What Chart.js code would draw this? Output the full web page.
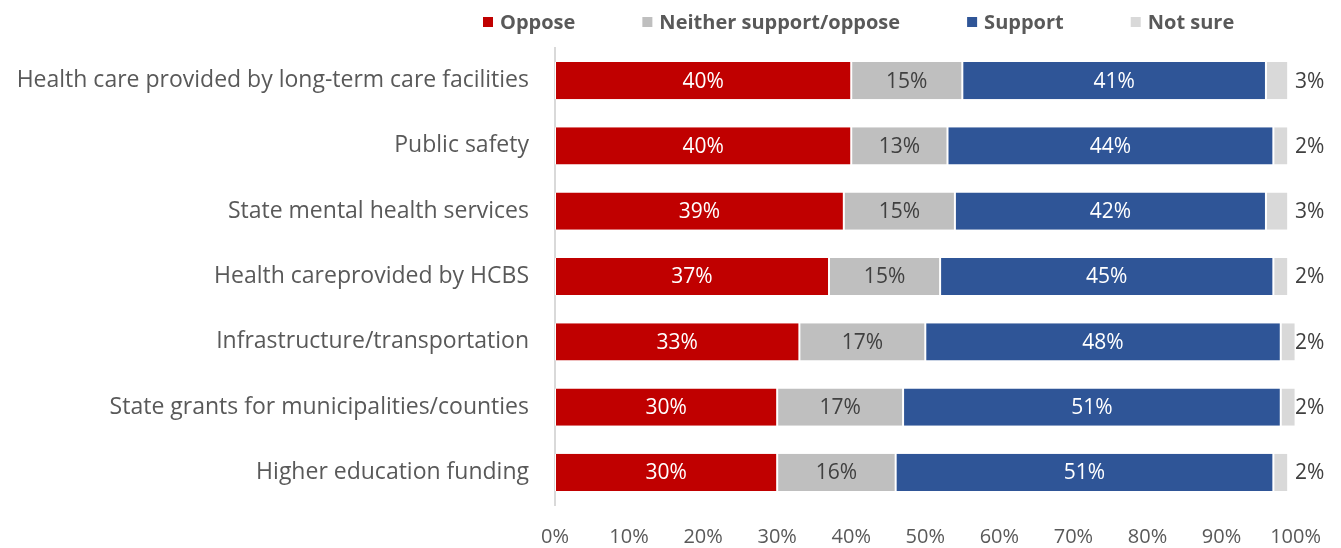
<!DOCTYPE html>
<html>
<head>
<meta charset="utf-8">
<script src="https://cdn.jsdelivr.net/npm/chart.js@4.4.0/dist/chart.umd.min.js"></script>
<style>
  body { margin: 0; background: #fff; }
  #wrap { width: 1341px; height: 548px; position: relative; }
</style>
</head>
<body>
<div id="wrap"><canvas id="myChart"></canvas></div>
<script>
var categories = ['Health care provided by long-term care facilities', 'Public safety', 'State mental health services',
  'Health careprovided by HCBS', 'Infrastructure/transportation', 'State grants for municipalities/counties', 'Higher education funding'];
var oppose = [40, 40, 39, 37, 33, 30, 30];
var neither = [15, 13, 15, 15, 17, 17, 16];
var support = [41, 44, 42, 45, 48, 51, 51];
var notSure = [3, 2, 3, 2, 2, 2, 2];
var xTicks = [0, 10, 20, 30, 40, 50, 60, 70, 80, 90, 100];

var FONT = "'Open Sans', 'Noto Sans', sans-serif";
var textGrey = '#595959';

// labels inside the bars, and "not sure" on the right side
var barLabels = {
  id: 'barLabels',
  afterDatasetsDraw: function(chart) {
    var ctx = chart.ctx;
    var xs = chart.scales.x;
    ctx.save();
    ctx.font = '21px ' + FONT;
    ctx.textBaseline = 'middle';
    ctx.textAlign = 'center';
    chart.data.datasets.forEach(function(ds, i) {
      var meta = chart.getDatasetMeta(i);
      meta.data.forEach(function(el, j) {
        var txt = ds.data[j] + '%';
        if (i == 3) {
          ctx.fillStyle = '#404040';
          ctx.fillText(txt, xs.getPixelForValue(100) + 14, el.y + 1);
        } else {
          ctx.fillStyle = ds.labelColor;
          ctx.fillText(txt, (el.x + el.base) / 2, el.y + 1);
        }
      });
    });
    ctx.restore();
  }
};

// legend drawn by hand so it sits where the original one does
var topLegend = {
  id: 'topLegend',
  afterDraw: function(chart) {
    var ctx = chart.ctx;
    ctx.save();
    ctx.font = 'bold 20px ' + FONT;
    ctx.textBaseline = 'middle';
    ctx.textAlign = 'left';
    var x = 483, y = 22;
    chart.data.datasets.forEach(function(ds) {
      ctx.fillStyle = ds.backgroundColor;
      ctx.fillRect(x, y - 5, 10, 10);
      ctx.fillStyle = textGrey;
      ctx.fillText(ds.label, x + 17, y + 1);
      x += 17 + ctx.measureText(ds.label).width + 67;
    });
    ctx.restore();
  }
};

var chartdata = {
  labels: categories,
  datasets: [
    { label: 'Oppose', data: oppose, backgroundColor: '#C00000', labelColor: '#ffffff' },
    { label: 'Neither support/oppose', data: neither, backgroundColor: '#BFBFBF', labelColor: '#404040' },
    { label: 'Support', data: support, backgroundColor: '#2F5597', labelColor: '#ffffff' },
    { label: 'Not sure', data: notSure, backgroundColor: '#D9D9D9', labelColor: '#404040' }
  ]
};
chartdata.datasets.forEach(function(ds) {
  ds.borderColor = '#ffffff';
  ds.borderWidth = { left: 1, right: 1, top: 0, bottom: 0 };
  ds.borderSkipped = false;
  ds.categoryPercentage = 1;
  ds.barPercentage = 0.57;
});

new Chart(document.getElementById('myChart'), {
  type: 'bar',
  data: chartdata,
  plugins: [barLabels, topLegend],
  options: {
    indexAxis: 'y',
    responsive: true,
    maintainAspectRatio: false,
    animation: false,
    layout: { padding: { top: 48, right: 44, bottom: 0, left: 0 } },
    plugins: { legend: { display: false }, tooltip: { enabled: false } },
    scales: {
      x: {
        stacked: true, min: 0, max: 100,
        afterBuildTicks: function(ax) { ax.ticks = xTicks.map(function(v) { return { value: v }; }); },
        afterFit: function(ax) { ax.height = 43; },
        grid: { display: false, drawTicks: false },
        border: { display: false },
        ticks: { color: textGrey, font: { family: FONT, size: 20 }, padding: 20, callback: function(v) { return v + '%'; } }
      },
      y: {
        stacked: true,
        grid: { display: false, drawTicks: false },
        border: { color: '#D9D9D9', width: 2 },
        afterFit: function(ax) { ax.width = 555; },
        ticks: { color: textGrey, font: { family: FONT, size: 23 }, padding: 26 }
      }
    }
  }
});
</script>
</body>
</html>
